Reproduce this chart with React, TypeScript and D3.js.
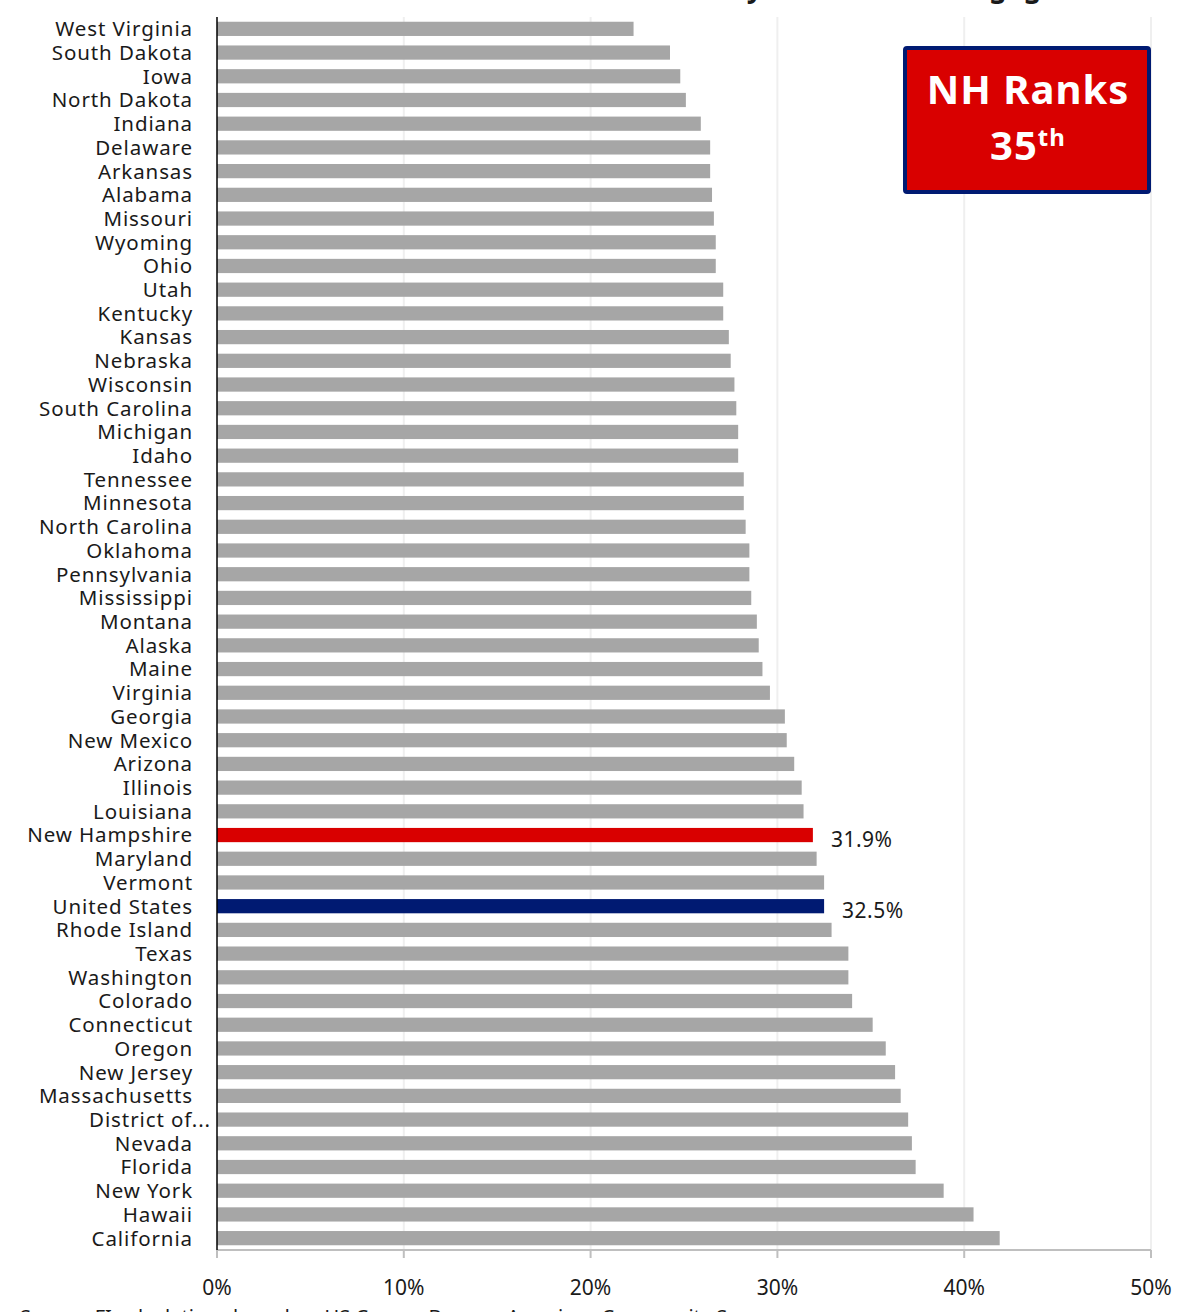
import React from "react";
import * as d3 from "d3";

const states = [
  "West Virginia", "South Dakota", "Iowa", "North Dakota", "Indiana", "Delaware", "Arkansas",
  "Alabama", "Missouri", "Wyoming", "Ohio", "Utah", "Kentucky", "Kansas", "Nebraska",
  "Wisconsin", "South Carolina", "Michigan", "Idaho", "Tennessee", "Minnesota",
  "North Carolina", "Oklahoma", "Pennsylvania", "Mississippi", "Montana", "Alaska", "Maine",
  "Virginia", "Georgia", "New Mexico", "Arizona", "Illinois", "Louisiana", "New Hampshire",
  "Maryland", "Vermont", "United States", "Rhode Island", "Texas", "Washington", "Colorado",
  "Connecticut", "Oregon", "New Jersey", "Massachusetts", "District of...", "Nevada",
  "Florida", "New York", "Hawaii", "California",
];

const values = [
  22.3, 24.25, 24.8, 25.1, 25.9, 26.4, 26.4,
  26.5, 26.6, 26.7, 26.7, 27.1, 27.1, 27.4, 27.5,
  27.7, 27.8, 27.9, 27.9, 28.2, 28.2,
  28.3, 28.5, 28.5, 28.6, 28.9, 29.0, 29.2,
  29.6, 30.4, 30.5, 30.9, 31.3, 31.4, 31.9,
  32.1, 32.5, 32.5, 32.9, 33.8, 33.8, 34.0,
  35.1, 35.8, 36.3, 36.6, 37.0, 37.2,
  37.4, 38.9, 40.5, 41.9,
];

const xTicks = [0, 10, 20, 30, 40, 50];
const labelled = ["New Hampshire", "United States"];

const W = 1190;
const H = 1312;

export default function App() {
  const x = d3.scaleLinear().domain([0, 50]).range([217, 1151]);
  const y = d3.scaleBand<string>().domain(states).range([17, 1250]).paddingInner(0.4).paddingOuter(0.2);
  const font = "'Noto Sans', sans-serif";
  const colorOf = (s: string) =>
    s === "New Hampshire" ? "#d90000" : s === "United States" ? "#001a72" : "#a6a6a6";

  return (
    <svg
      width={W}
      height={H}
      style={{ position: "absolute", left: 0, top: 0, background: "#fff" }}
      fontFamily={font}
    >
      <text x={1072} y={-3} textAnchor="end" fontSize={28} fontWeight="bold" fill="#1a1a1a">
        Homeowner Cost Burden by State with Mortgages
      </text>
      {xTicks.slice(1).map((t) => (
        <line key={"g" + t} x1={x(t)} x2={x(t)} y1={17} y2={1250} stroke="#efefef" strokeWidth={2} />
      ))}
      {states.map((s, i) => (
        <rect
          key={s}
          x={x(0)}
          y={y(s)!}
          width={x(values[i]) - x(0)}
          height={y.bandwidth()}
          fill={colorOf(s)}
        />
      ))}
      <line x1={x(0)} x2={x(50)} y1={1250} y2={1250} stroke="#bfbfbf" strokeWidth={2} />
      {xTicks.map((t) => (
        <line key={"t" + t} x1={x(t)} x2={x(t)} y1={1250} y2={1258} stroke="#bfbfbf" strokeWidth={2} />
      ))}
      <line x1={x(0)} x2={x(0)} y1={17} y2={1250} stroke="#000" strokeWidth={1.5} />
      {xTicks.map((t) => (
        <text key={"l" + t} x={x(t)} y={1295} textAnchor="middle" fontSize={21} fill="#1a1a1a">
          {t + "%"}
        </text>
      ))}
      {states.map((s) => (
        <text
          key={"n" + s}
          x={s === "District of..." ? 211 : 193}
          y={y(s)! + y.bandwidth() / 2}
          dy="0.36em"
          textAnchor="end"
          fontSize={20.5}
          letterSpacing={0.9}
          fill="#1a1a1a"
        >
          {s}
        </text>
      ))}
      {labelled.map((s) => {
        const v = values[states.indexOf(s)];
        return (
          <text
            key={"v" + s}
            x={x(v) + 18}
            y={y(s)! + y.bandwidth() / 2 + 4}
            dy="0.36em"
            fontSize={21}
            letterSpacing={0.5}
            fill="#1a1a1a"
          >
            {v.toFixed(1) + "%"}
          </text>
        );
      })}
      <rect x={905} y={48} width={244} height={144} rx={2} fill="#d90000" stroke="#001a72" strokeWidth={4} />
      <text x={1028} y={104} textAnchor="middle" fontSize={40} fontWeight="bold" fill="#fff" letterSpacing={1}>
        NH Ranks
      </text>
      <text x={1028} y={160} textAnchor="middle" fontSize={40} fontWeight="bold" fill="#fff" letterSpacing={1}>
        35
        <tspan fontSize={24} dy={-14}>th</tspan>
      </text>
      <text x={20} y={1324} fontSize={20} fill="#1a1a1a">
        Source: FI calculations based on US Census Bureau, American Community Survey
      </text>
    </svg>
  );
}
